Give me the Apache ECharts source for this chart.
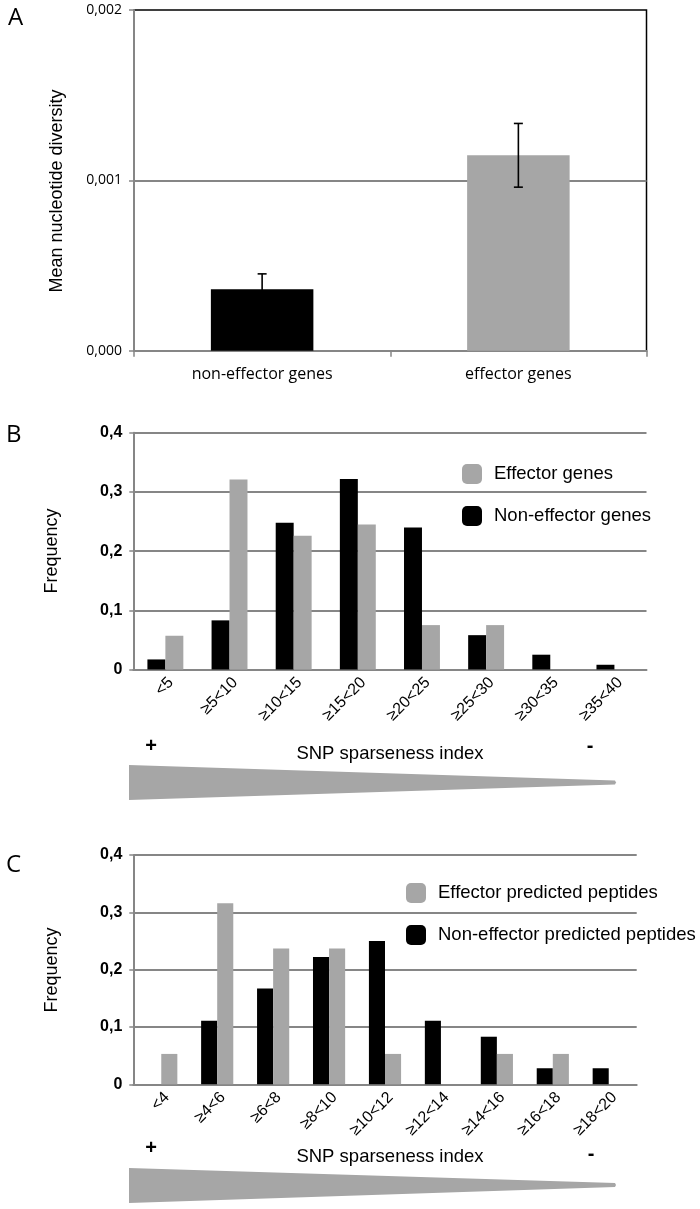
<!DOCTYPE html>
<html><head><meta charset="utf-8">
<script src="https://cdn.jsdelivr.net/npm/echarts@6/dist/echarts.min.js"></script>
<style>html,body{margin:0;padding:0;background:#fff}#c{width:700px;height:1209px}</style>
</head><body><div id="c"></div>
<script>
// ---- Panel A ----
const aCategories = ['non-effector genes', 'effector genes'];
const aMeans = [0.000361, 0.001147];
const aErrors = [0.00009, 0.000187];
const aColors = ['#000000', '#a6a6a6'];
// ---- Panel B ----
const bCategories = ['<5', '≥5<10', '≥10<15', '≥15<20', '≥20<25', '≥25<30', '≥30<35', '≥35<40'];
const bEffector = [0.057, 0.321, 0.226, 0.245, 0.075, 0.075, 0, 0];
const bNonEffector = [0.017, 0.083, 0.248, 0.322, 0.240, 0.058, 0.025, 0.008];
// ---- Panel C ----
const cCategories = ['<4', '≥4<6', '≥6<8', '≥8<10', '≥10<12', '≥12<14', '≥14<16', '≥16<18', '≥18<20'];
const cEffector = [0.053, 0.316, 0.237, 0.237, 0.053, 0, 0.053, 0.053, 0];
const cNonEffector = [0, 0.111, 0.167, 0.222, 0.250, 0.111, 0.083, 0.028, 0.028];

const ARIAL = "'Liberation Sans', Arial, sans-serif";
const CAL = "'Open Sans', sans-serif";
const GRAY = '#a6a6a6';
const LINE = '#868686';

const chart = echarts.init(document.getElementById('c'), null, {renderer: 'canvas'});

function freqFmt(v) { return v === 0 ? '0' : v.toFixed(1).replace('.', ','); }

function freqYAxis(gridIndex) {
  return {
    type: 'value', gridIndex, min: 0, max: 0.4, interval: 0.1,
    axisLine: {show: true, lineStyle: {color: LINE, width: 2}},
    axisTick: {show: true, length: 4, lineStyle: {color: LINE, width: 1.5}},
    axisLabel: {formatter: freqFmt, fontFamily: ARIAL, fontWeight: 'bold', fontSize: 16, color: '#000', margin: 11},
    splitLine: {show: true, lineStyle: {color: LINE, width: 2}}
  };
}
function catXAxis(gridIndex, data) {
  return {
    type: 'category', gridIndex, data,
    axisLine: {show: true, lineStyle: {color: LINE, width: 2}},
    axisTick: {show: false},
    axisLabel: {rotate: 45, verticalAlign: 'top', fontFamily: ARIAL, fontSize: 16, color: '#000', margin: 5, interval: 0}
  };
}

const option = {
  animation: false,
  backgroundColor: '#fff',
  grid: [
    {left: 134, right: 53.5, top: 10, height: 340.7, show: true, borderColor: '#000', borderWidth: 1.5, backgroundColor: 'transparent'},
    {left: 133.3, right: 53.5, top: 432.7, height: 236.8},
    {left: 133.3, right: 63.3, top: 855, height: 229.3}
  ],
  xAxis: [
    {
      type: 'category', gridIndex: 0, data: aCategories,
      axisLine: {show: true, lineStyle: {color: LINE, width: 2}},
      axisTick: {show: true, length: 6, lineStyle: {color: LINE, width: 1.5}},
      axisLabel: {fontFamily: CAL, fontSize: 16, color: '#000', margin: 16}
    },
    catXAxis(1, bCategories),
    catXAxis(2, cCategories)
  ],
  yAxis: [
    {
      type: 'value', gridIndex: 0, min: 0, max: 0.002, interval: 0.001,
      axisLine: {show: true, lineStyle: {color: LINE, width: 2}},
      axisTick: {show: true, length: 5, lineStyle: {color: LINE, width: 1.5}},
      axisLabel: {formatter: v => v.toFixed(3).replace('.', ','), fontFamily: CAL, fontSize: 14, color: '#000', margin: 12},
      splitLine: {show: true, showMaxLine: false, lineStyle: {color: LINE, width: 2}}
    },
    freqYAxis(1),
    freqYAxis(2)
  ],
  legend: [
    {
      data: ['Effector genes', 'Non-effector genes'], orient: 'vertical', left: 457, top: 459,
      itemWidth: 20, itemHeight: 20, itemGap: 22, icon: 'roundRect',
      textStyle: {fontFamily: ARIAL, fontSize: 18.5, color: '#000', padding: [0, 0, 0, 7]}
    },
    {
      data: ['Effector predicted peptides', 'Non-effector predicted peptides'], orient: 'vertical', left: 401, top: 878,
      itemWidth: 20, itemHeight: 20, itemGap: 22, icon: 'roundRect',
      textStyle: {fontFamily: ARIAL, fontSize: 18.5, color: '#000', padding: [0, 0, 0, 7]}
    }
  ],
  series: [
    {
      type: 'bar', name: 'Mean nucleotide diversity', xAxisIndex: 0, yAxisIndex: 0, barWidth: '40%',
      data: aMeans.map((v, i) => ({value: v, itemStyle: {color: aColors[i]}}))
    },
    {
      type: 'custom', name: 'error', xAxisIndex: 0, yAxisIndex: 0, z: 10,
      data: aMeans.map((m, i) => [i, m - aErrors[i], m + aErrors[i]]),
      renderItem: function (params, api) {
        const x = api.value(0);
        const lo = api.coord([x, api.value(1)]);
        const hi = api.coord([x, api.value(2)]);
        const hw = 4.5;
        const st = {stroke: '#000', lineWidth: 1.6};
        return {type: 'group', children: [
          {type: 'line', shape: {x1: lo[0], y1: lo[1], x2: hi[0], y2: hi[1]}, style: st},
          {type: 'line', shape: {x1: lo[0] - hw, y1: lo[1], x2: lo[0] + hw, y2: lo[1]}, style: st},
          {type: 'line', shape: {x1: hi[0] - hw, y1: hi[1], x2: hi[0] + hw, y2: hi[1]}, style: st}
        ]};
      }
    },
    {type: 'bar', name: 'Non-effector genes', xAxisIndex: 1, yAxisIndex: 1, data: bNonEffector,
      itemStyle: {color: '#000'}, barGap: '0%', barCategoryGap: '44%'},
    {type: 'bar', name: 'Effector genes', xAxisIndex: 1, yAxisIndex: 1, data: bEffector,
      itemStyle: {color: GRAY}, barGap: '0%', barCategoryGap: '44%'},
    {type: 'bar', name: 'Non-effector predicted peptides', xAxisIndex: 2, yAxisIndex: 2, data: cNonEffector,
      itemStyle: {color: '#000'}, barGap: '0%', barCategoryGap: '42.5%'},
    {type: 'bar', name: 'Effector predicted peptides', xAxisIndex: 2, yAxisIndex: 2, data: cEffector,
      itemStyle: {color: GRAY}, barGap: '0%', barCategoryGap: '42.5%'}
  ],
  graphic: [
    {type: 'text', left: 8, top: 6, style: {text: 'A', font: "24px 'Open Sans', sans-serif", fill: '#000'}},
    {type: 'text', left: 6, top: 423, style: {text: 'B', font: "24px 'Open Sans', sans-serif", fill: '#000'}},
    {type: 'text', left: 6, top: 853, style: {text: 'C', font: "24px 'Open Sans', sans-serif", fill: '#000'}},
    {type: 'text', x: 57, y: 191, rotation: Math.PI / 2,
      style: {text: 'Mean nucleotide diversity', font: "18px 'Liberation Sans', Arial, sans-serif", fill: '#000', textAlign: 'center', textVerticalAlign: 'middle'}},
    {type: 'text', x: 52, y: 551, rotation: Math.PI / 2,
      style: {text: 'Frequency', font: "18px 'Liberation Sans', Arial, sans-serif", fill: '#000', textAlign: 'center', textVerticalAlign: 'middle'}},
    {type: 'text', x: 52, y: 970, rotation: Math.PI / 2,
      style: {text: 'Frequency', font: "18px 'Liberation Sans', Arial, sans-serif", fill: '#000', textAlign: 'center', textVerticalAlign: 'middle'}},
    // B bottom annotation
    {type: 'text', x: 151, y: 746, style: {text: '+', font: "bold 20px 'Liberation Sans', Arial, sans-serif", fill: '#000', textAlign: 'center', textVerticalAlign: 'middle'}},
    {type: 'text', x: 390, y: 754, style: {text: 'SNP sparseness index', font: "18.5px 'Liberation Sans', Arial, sans-serif", fill: '#000', textAlign: 'center', textVerticalAlign: 'middle'}},
    {type: 'text', x: 590, y: 746, style: {text: '-', font: "bold 20px 'Liberation Sans', Arial, sans-serif", fill: '#000', textAlign: 'center', textVerticalAlign: 'middle'}},
    {type: 'polygon', shape: {points: [[129, 765], [615, 780.5], [616, 782.5], [615, 784.5], [129, 800]]}, style: {fill: GRAY}},
    // C bottom annotation
    {type: 'text', x: 151, y: 1148, style: {text: '+', font: "bold 20px 'Liberation Sans', Arial, sans-serif", fill: '#000', textAlign: 'center', textVerticalAlign: 'middle'}},
    {type: 'text', x: 390, y: 1157, style: {text: 'SNP sparseness index', font: "18.5px 'Liberation Sans', Arial, sans-serif", fill: '#000', textAlign: 'center', textVerticalAlign: 'middle'}},
    {type: 'text', x: 591, y: 1154, style: {text: '-', font: "bold 20px 'Liberation Sans', Arial, sans-serif", fill: '#000', textAlign: 'center', textVerticalAlign: 'middle'}},
    {type: 'polygon', shape: {points: [[129, 1168], [615, 1183], [616, 1185], [615, 1187], [129, 1203]]}, style: {fill: GRAY}}
  ]
};
chart.setOption(option);
</script>
</body></html>
